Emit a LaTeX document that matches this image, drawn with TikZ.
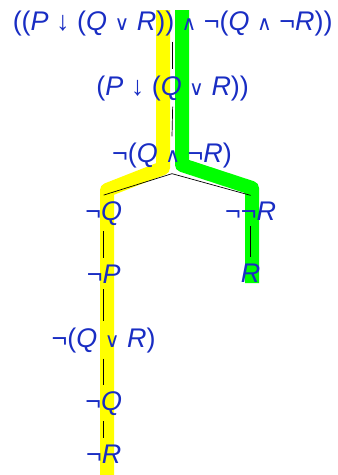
\documentclass[tikz,border=0pt]{standalone}
\usepackage{fontspec}
\setmainfont{Liberation Sans}
\newfontfamily\opfont{DejaVu Sans}[Scale=0.75]
\newcommand{\Tor}{{\opfont ∨}}
\newcommand{\Tand}{{\opfont ∧}}
\newcommand{\Tnor}{↓}
\newcommand{\Tv}[1]{\textit{#1}}
\definecolor{formblue}{RGB}{25,45,195}
\definecolor{hlyellow}{RGB}{255,255,0}
\definecolor{hlgreen}{RGB}{0,255,0}
\begin{document}
\begin{tikzpicture}[
        fml/.style={text=formblue, anchor=base, inner sep=5pt,
                    font=\fontsize{23}{27}\selectfont},
        edge/.style={black, line width=0.6pt},
        hl/.style={line width=0.42cm, line join=round}]
      \useasboundingbox (0,0) rectangle (10.14,-14.25);
      % open branches
      \draw[hl, hlyellow] (4.89,-0.3) -- (4.89,-5.04) -- (3.21,-5.7) -- (3.21,-14.25);
      \draw[hl, hlgreen]  (5.46,-0.3) -- (5.46,-4.95) -- (7.56,-5.64) -- (7.56,-8.49);
      % trunk
      \node[fml] (root)   at (5.18,-0.9)  {((\Tv{P} \Tnor{} (\Tv{Q} \Tor{} \Tv{R})) \Tand{} ¬(\Tv{Q} \Tand{} ¬\Tv{R}))};
      \node[fml] (nor)    at (5.18,-2.85) {(\Tv{P} \Tnor{} (\Tv{Q} \Tor{} \Tv{R}))};
      \node[fml] (negand) at (5.16,-4.86) {¬(\Tv{Q} \Tand{} ¬\Tv{R})};
      % left branch
      \node[fml] (nq1)    at (3.11,-6.6)  {¬\Tv{Q}};
      \node[fml] (np)     at (3.11,-8.49) {¬\Tv{P}};
      \node[fml] (nqr)    at (3.11,-10.41){¬(\Tv{Q} \Tor{} \Tv{R})};
      \node[fml] (nq2)    at (3.11,-12.3) {¬\Tv{Q}};
      \node[fml] (nr)     at (3.11,-13.89){¬\Tv{R}};
      % right branch
      \node[fml] (nnr)    at (7.52,-6.6)  {¬¬\Tv{R}};
      \node[fml] (r)      at (7.52,-8.46) {\Tv{R}};
      \draw[edge] (root.south)   -- (nor.north);
      \draw[edge] (nor.south)    -- (negand.north);
      \draw[edge] (negand.south) -- (nq1.north);
      \draw[edge] (negand.south) -- (nnr.north);
      \draw[edge] (nq1.south)    -- (np.north);
      \draw[edge] (np.south)     -- (nqr.north);
      \draw[edge] (nqr.south)    -- (nq2.north);
      \draw[edge] (nq2.south)    -- (nr.north);
      \draw[edge] (nnr.south)    -- (r.north);
    \end{tikzpicture}
\end{document}
